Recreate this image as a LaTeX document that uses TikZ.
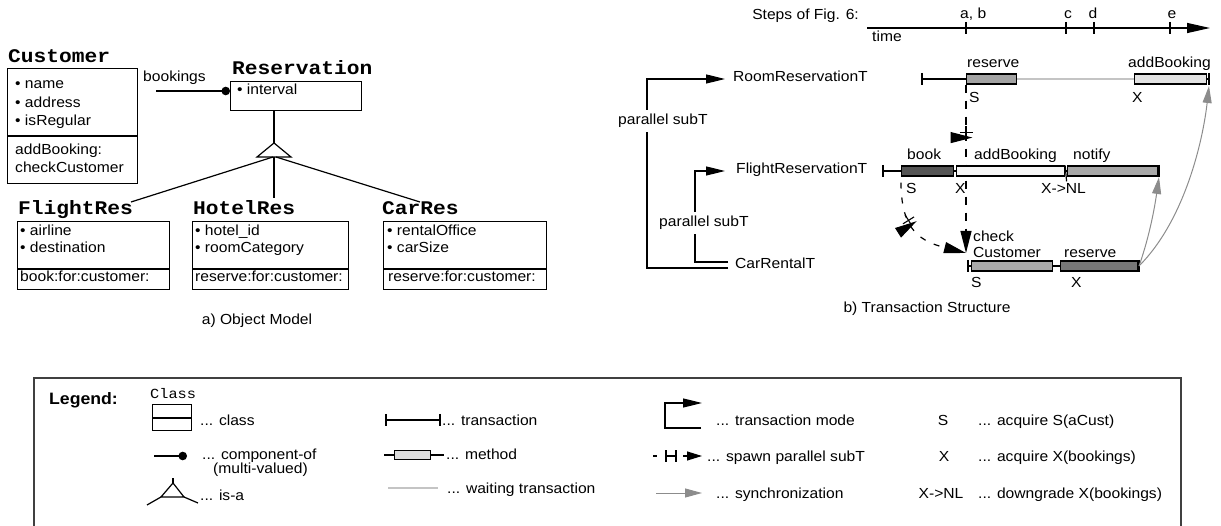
\documentclass[tikz,border=0pt]{standalone}
\usepackage{fontspec}
\setmainfont{Liberation Sans}[FakeStretch=1.07]
\newfontfamily\clsfont{Liberation Mono}[FakeStretch=1.1]
\usetikzlibrary{arrows.meta,decorations.markings}

\definecolor{mRoomRes}{HTML}{A3A3A3}
\definecolor{mRoomAdd}{HTML}{E2E2E2}
\definecolor{mBook}{HTML}{555555}
\definecolor{mFlAdd}{HTML}{F6F6F6}
\definecolor{mNotify}{HTML}{A8A8A8}
\definecolor{mCheck}{HTML}{A8A8A8}
\definecolor{mCarRes}{HTML}{777777}
\definecolor{mLegend}{HTML}{DDDDDD}
\definecolor{waitgray}{HTML}{C4C4C4}
\definecolor{syncgray}{HTML}{8C8C8C}
\definecolor{frame}{HTML}{404040}

\tikzset{
  txt/.style={font=\fontsize{14.6}{17}\selectfont, inner sep=0pt, anchor=base west},
  ctxt/.style={txt, anchor=base},
  ttl/.style={font=\clsfont\bfseries\fontsize{19.3}{22}\selectfont, inner sep=0pt, anchor=base west},
  ln/.style={line width=1.2pt},
  cbox/.style={draw, line width=1.2pt, inner sep=0pt, anchor=north west},
  meth/.style={draw, line width=1.1pt, inner sep=0pt, anchor=west, minimum height=10pt},
  waitline/.style={draw=waitgray, line width=1.6pt},
  syncarrow/.style={draw=syncgray, line width=1pt, -{Triangle[length=17pt,width=9pt]}},
  spawnline/.style={ln, dash pattern=on 8pt off 8pt},
  bigtip/.style={-{Triangle[length=22pt,width=11pt]}},
  modetip/.style={-{Triangle[length=19pt,width=9pt]}},
  spawnmark/.style={postaction={decorate, decoration={markings,
     mark=at position #1 with {\draw[solid, line width=1.1pt]
        (-9pt,0pt) -- (2.5pt,0pt)
        (-2.5pt,-6.5pt) -- (-2.5pt,6.5pt)
        (2.5pt,-6.5pt) -- (2.5pt,6.5pt);}}}},
  tickbar/.pic={\draw[line width=1.2pt] (0,-6) -- (0,6);},
}

\begin{document}
\begin{tikzpicture}[x=1pt, y=-1pt]
\useasboundingbox (0,0) rectangle (1221,526);

% ================= a) object model =================
% Customer
\node[ttl] (custT) at (8,63) {Customer};
\node[cbox, minimum width=130pt, minimum height=115pt] (cust) at (7,68) {};
\draw[ln] (7,136) -- (137,136);
\node[txt] (cA1) at (15,89) {• name};
\node[txt] (cA2) at (15,108) {• address};
\node[txt] (cA3) at (15,126) {• isRegular};
\node[txt] (cM1) at (15,155) {addBooking:};
\node[txt] (cM2) at (15,173) {checkCustomer};

% Reservation
\node[ttl] (resT) at (232,75) {Reservation};
\node[cbox, minimum width=131pt, minimum height=29pt] (res) at (230,81) {};
\node[txt] (rA1) at (237,95) {• interval};

% bookings (component-of)
\node[txt] (bkL) at (143,82) {bookings};
\coordinate (bkStart) at (156,91);
\draw[ln, -{Circle[length=8.5pt]}] (bkStart) -- (res.west |- bkStart);

% is-a triangle
\coordinate (isaTop) at (274,143);
\draw[ln] (res.south -| isaTop) -- (isaTop);
\draw[ln, fill=white] (isaTop) -- (291,157) -- (257,157) -- cycle;

% subclasses
\node[ttl] (flT) at (18,215) {FlightRes};
\node[cbox, minimum width=152pt, minimum height=68pt] (fl) at (17,221) {};
\draw[ln] (17,269) -- (169,269);
\node[txt] (fA1) at (20,236) {• airline};
\node[txt] (fA2) at (20,253) {• destination};
\node[txt] (fM1) at (20,282) {book:for:customer:};

\node[ttl] (hoT) at (193,215) {HotelRes};
\node[cbox, minimum width=156pt, minimum height=68pt] (ho) at (192,221) {};
\draw[ln] (192,269) -- (348,269);
\node[txt] (hA1) at (195,236) {• hotel\_id};
\node[txt] (hA2) at (195,253) {• roomCategory};
\node[txt] (hM1) at (195,282) {reserve:for:customer:};

\node[ttl] (caT) at (382,215) {CarRes};
\node[cbox, minimum width=163pt, minimum height=68pt] (ca) at (383,221) {};
\draw[ln] (383,269) -- (546,269);
\node[txt] (kA1) at (387,236) {• rentalOffice};
\node[txt] (kA2) at (387,253) {• carSize};
\node[txt] (kM1) at (388,282) {reserve:for:customer:};

\coordinate (isaL) at (131,202);
\coordinate (isaM) at (274,198);
\coordinate (isaR) at (420,202);
\draw[ln] (273,157) -- (isaL);
\draw[ln] (274,157) -- (isaM);
\draw[ln] (276,157) -- (isaR);

\node[ctxt] (capA) at (257,325) {a) Object Model};

% ================= b) transaction structure =================
% time axis
\node[txt, anchor=base east] (steps) at (859,20) {Steps of Fig. 6:};
\coordinate (t0) at (867,28);
\coordinate (t1) at (1210,28);
\draw[ln, -{Triangle[length=23pt,width=10pt]}] (t0) -- (t1);
\foreach \x in {966,1066,1094,1170}
  \draw[ln] (\x,22) -- (\x,34);
\node[txt] (lab) at (960,19) {a, b};
\node[ctxt] (lc) at (1068,19) {c};
\node[ctxt] (ld) at (1093,19) {d};
\node[ctxt] (le) at (1172,19) {e};
\node[txt] (ltime) at (872,42) {time};

% transaction names and mode brackets
\node[txt, anchor=mid west] (roomT) at (733,79) {RoomReservationT};
\node[txt, anchor=mid west] (flightT) at (736,171) {FlightReservationT};
\node[txt, anchor=mid west] (carT) at (735,266) {CarRentalT};
\coordinate (roomIn) at (725,79);
\coordinate (flightIn) at (725,171);
\coordinate (carOutA) at (728,268);
\coordinate (carOutB) at (728,262);
\draw[ln, modetip] (carOutA) -- (647,268) -- (647,79) -- (roomIn);
\draw[ln, modetip] (carOutB) -- (695,262) -- (695,171) -- (flightIn);
\node[txt, fill=white, inner ysep=4pt] (ps1) at (618,125) {parallel subT};
\node[txt, fill=white, inner ysep=4pt] (ps2) at (659,227) {parallel subT};

% method boxes (placed first, so the spawn lines can run beneath the bars)
\node[meth, fill=mRoomRes, minimum width=50pt] (rres) at (966,79) {};
\node[meth, fill=mRoomAdd, minimum width=72pt] (radd) at (1134,79) {};
\node[meth, fill=mBook, minimum width=52pt] (fbook) at (901,171) {};
\node[meth, fill=mNotify, minimum width=90pt] (fnot) at (1067,171) {};
\node[meth, fill=mCheck, minimum width=81pt] (cchk) at (971,266) {};
\node[meth, fill=mCarRes, minimum width=77pt] (cres) at (1060,266) {};

% spawning of parallel subtransactions
\coordinate (spawn) at (966,253);
\draw[spawnline, bigtip, spawnmark=0.3] (rres.south west) -- (spawn);
\draw[ln, dash pattern=on 6pt off 9pt, dash phase=9pt, bigtip, spawnmark=0.42]
  (fbook.south west) .. controls (900,225) and (915,240) .. (spawn);

% RoomReservationT row
\coordinate (r0) at (922,79);
\coordinate (r1) at (1209,79);
\draw[ln] (r0) -- (rres.west);
\draw[waitline] (rres.east) -- (radd.west);
\draw[ln] (radd.east) -- (r1);
\pic at (r0) {tickbar};
\pic at (r1) {tickbar};
\node[txt] (lrres) at (967,68) {reserve};
\node[txt] (lradd) at (1128,68) {addBooking};
\node[txt] (lrS) at (969,103) {S};
\node[txt] (lrX) at (1132,103) {X};

% FlightReservationT row
\coordinate (f0) at (883,171);
\coordinate (f1) at (1159,171);
\node[meth, fill=mFlAdd, minimum width=108pt] (fadd) at (956,171) {};
\draw[ln] (f0) -- (fbook.west) (fbook.east) -- (fadd.west)
          (fadd.east) -- (fnot.west) (fnot.east) -- (f1);
\pic at (f0) {tickbar};
\pic at (f1) {tickbar};
\draw[ln] (fadd.north east) -- ++(1.5,16);
\node[txt] (lfbook) at (907,160) {book};
\node[txt] (lfadd) at (974,160) {addBooking};
\node[txt] (lfnot) at (1073,160) {notify};
\node[txt] (lfS) at (906,194) {S};
\node[txt] (lfX) at (955,194) {X};
\node[txt] (lfXN) at (1041,194) {X->NL};

% CarRentalT row
\coordinate (c0) at (968,266);
\coordinate (c1) at (1139,266);
\draw[ln] (c0) -- (cchk.west) (cchk.east) -- (cres.west) (cres.east) -- (c1);
\pic at (c0) {tickbar};
\pic at (c1) {tickbar};
\node[txt] (lcchk1) at (973,242) {check};
\node[txt] (lcchk2) at (973,258) {Customer};
\node[txt] (lcres) at (1064,258) {reserve};
\node[txt] (lcS) at (971,288) {S};
\node[txt] (lcX) at (1071,288) {X};

% synchronization
\draw[syncarrow] (c1) .. controls (1150,235) and (1155,205) .. ([yshift=-6pt]f1);
\draw[syncarrow] (c1) .. controls (1185,220) and (1203,140) .. ([yshift=-7pt]r1);

\node[ctxt] (capB) at (927,313) {b) Transaction Structure};

% ================= legend =================
\draw[line width=1.5pt, frame] (34,378) rectangle (1181,560);
\node[txt, font=\bfseries\fontsize{16.5}{19}\selectfont] (lgT) at (49,405) {Legend:};

% class
\node[txt, font=\clsfont\fontsize{13.9}{16}\selectfont] (lgClsT) at (150,399) {Class};
\node[cbox, minimum width=39pt, minimum height=26pt] (lgCls) at (152,404) {};
\draw[ln] (152,418) -- (191,418);
\node[txt] (lgClsL) at (200,425) {... class};

% component-of
\coordinate (lgC0) at (154,456);
\coordinate (lgC1) at (187,456);
\draw[ln, -{Circle[length=8.5pt]}] (lgC0) -- (lgC1);
\node[txt] (lgCompL) at (202,460) {... component-of};
\node[txt] (lgCompL2) at (213,473) {(multi-valued)};

% is-a
\draw[ln] (173,478) -- (173,483);
\draw[ln, fill=white] (173,483) -- (184,497) -- (161,497) -- cycle;
\draw[ln] (161,497) -- (147,505) (184,497) -- (198,503);
\node[txt] (lgIsaL) at (200,500) {... is-a};

% transaction
\coordinate (lgT0) at (386,420);
\coordinate (lgT1) at (440,420);
\draw[ln] (lgT0) -- (lgT1);
\pic at (lgT0) {tickbar};
\pic at (lgT1) {tickbar};
\node[txt] (lgTrL) at (442,425) {... transaction};

% method
\coordinate (lgM0) at (384,455);
\coordinate (lgM1) at (444,455);
\node[meth, fill=mLegend, minimum width=36pt, minimum height=9pt] (lgM) at (394,455) {};
\draw[ln] (lgM0) -- (lgM.west) (lgM.east) -- (lgM1);
\node[txt] (lgMethL) at (446,460) {... method};

% waiting transaction
\coordinate (lgW0) at (388,488);
\coordinate (lgW1) at (438,488);
\draw[waitline] (lgW0) -- (lgW1);
\node[txt] (lgWaitL) at (447,493) {... waiting transaction};

% transaction mode
\coordinate (lgTm0) at (701,428);
\coordinate (lgTm1) at (702,403);
\draw[ln, modetip] (lgTm0) -- (665,428) -- (665,403) -- (lgTm1);
\node[txt] (lgModeL) at (716,425) {... transaction mode};

% spawn parallel subT
\draw[ln] (653,456) -- (657,456);
\draw[ln] (666,450) -- (666,462) (676,450) -- (676,462) (666,456) -- (676,456);
\coordinate (lgS0) at (683,456);
\coordinate (lgS1) at (702,456);
\draw[ln, -{Triangle[length=15pt,width=9pt]}] (lgS0) -- (lgS1);
\node[txt] (lgSpawnL) at (707,461) {... spawn parallel subT};

% synchronization
\coordinate (lgY0) at (656,493);
\coordinate (lgY1) at (702,493);
\draw[syncarrow] (lgY0) -- (lgY1);
\node[txt] (lgSyncL) at (716,498) {... synchronization};

% lock modes
\node[ctxt] (lgS) at (943,425) {S};
\node[txt] (lgSL) at (978,425) {... acquire S(aCust)};
\node[ctxt] (lgX) at (944,461) {X};
\node[txt] (lgXL) at (978,461) {... acquire X(bookings)};
\node[ctxt] (lgXN) at (941,498) {X->NL};
\node[txt] (lgXNL) at (978,498) {... downgrade X(bookings)};
\end{tikzpicture}
\end{document}
